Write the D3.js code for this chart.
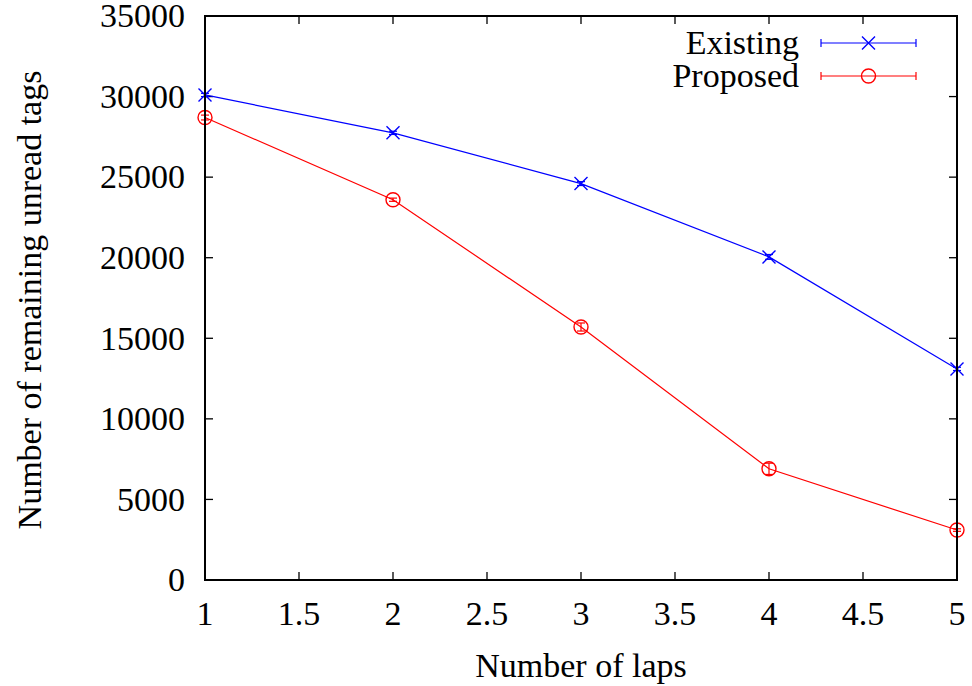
<!DOCTYPE html>
<html>
<head>
<meta charset="utf-8">
<script src="https://cdn.jsdelivr.net/npm/d3@7"></script>
<style>
  html, body { margin: 0; padding: 0; background: #fff; }
  svg text { font-family: "Liberation Serif", "Times New Roman", serif; fill: #000; }
</style>
</head>
<body>
<div id="chart"></div>
<script>
// data
const laps = [1, 2, 3, 4, 5];
const existing = [30100, 27750, 24600, 20050, 13100];
const existingErr = [100, 100, 120, 150, 100];
const proposed = [28700, 23600, 15700, 6900, 3100];
const proposedErr = [150, 100, 250, 350, 80];
const xTicks = [1, 1.5, 2, 2.5, 3, 3.5, 4, 4.5, 5];
const yTicks = [0, 5000, 10000, 15000, 20000, 25000, 30000, 35000];

const series = [
    { name: "Existing", values: existing, err: existingErr, color: "#0000ff", marker: "cross" },
    { name: "Proposed", values: proposed, err: proposedErr, color: "#ff0000", marker: "circle" }
];

const width = 972;
const height = 686;
const margin = { top: 16, right: 15, bottom: 106, left: 205 };
const chartWidth = width - margin.left - margin.right;
const chartHeight = height - margin.top - margin.bottom;

const svg = d3.select("#chart").append("svg")
    .attr("width", width)
    .attr("height", height);

const g = svg.append("g")
    .attr("transform", `translate(${margin.left}, ${margin.top})`);

// scales
const xScale = d3.scaleLinear().domain([1, 5]).range([0, chartWidth]);
const yScale = d3.scaleLinear().domain([0, 35000]).range([chartHeight, 0]);

const tickLen = 8;
const fontSize = 34;

// inward ticks on all four sides (gnuplot style)
const ticks = g.append("g").attr("stroke", "#000").attr("stroke-width", 1.3);
xTicks.forEach(t => {
    const x = xScale(t);
    ticks.append("line").attr("x1", x).attr("x2", x).attr("y1", chartHeight).attr("y2", chartHeight - tickLen);
    ticks.append("line").attr("x1", x).attr("x2", x).attr("y1", 0).attr("y2", tickLen);
});
yTicks.forEach(t => {
    const y = yScale(t);
    ticks.append("line").attr("x1", 0).attr("x2", tickLen).attr("y1", y).attr("y2", y);
    ticks.append("line").attr("x1", chartWidth).attr("x2", chartWidth - tickLen).attr("y1", y).attr("y2", y);
});

// tick labels
g.selectAll(".x-label")
    .data(xTicks)
    .enter().append("text")
    .attr("class", "x-label")
    .attr("x", d => xScale(d))
    .attr("y", chartHeight + 45)
    .attr("text-anchor", "middle")
    .style("font-size", fontSize + "px")
    .text(d => d);

g.selectAll(".y-label")
    .data(yTicks)
    .enter().append("text")
    .attr("class", "y-label")
    .attr("x", -20)
    .attr("y", d => yScale(d))
    .attr("dy", "0.33em")
    .attr("text-anchor", "end")
    .style("font-size", fontSize + "px")
    .text(d => d);

// axis titles
svg.append("text")
    .attr("x", margin.left + chartWidth / 2)
    .attr("y", 677)
    .attr("text-anchor", "middle")
    .style("font-size", fontSize + "px")
    .text("Number of laps");

svg.append("text")
    .attr("transform", `translate(41, ${margin.top + chartHeight / 2 + 2}) rotate(-90)`)
    .attr("text-anchor", "middle")
    .style("font-size", fontSize + "px")
    .text("Number of remaining unread tags");

// series
const line = d3.line()
    .x((d, i) => xScale(laps[i]))
    .y(d => yScale(d));

function drawMarker(sel, type, x, y, color) {
    if (type === "cross") {
        const s = 6.5;
        sel.append("path")
            .attr("d", `M${x - s},${y - s}L${x + s},${y + s}M${x - s},${y + s}L${x + s},${y - s}`)
            .attr("stroke", color).attr("stroke-width", 1.4).attr("fill", "none");
    } else {
        sel.append("circle")
            .attr("cx", x).attr("cy", y).attr("r", 7)
            .attr("stroke", color).attr("stroke-width", 1.4).attr("fill", "none");
    }
}

function drawErrorBar(sel, x, y0, y1, color) {
    const cap = 4;
    sel.append("line").attr("x1", x).attr("x2", x).attr("y1", y0).attr("y2", y1)
        .attr("stroke", color).attr("stroke-width", 1.2);
    [y0, y1].forEach(y => {
        sel.append("line").attr("x1", x - cap).attr("x2", x + cap).attr("y1", y).attr("y2", y)
            .attr("stroke", color).attr("stroke-width", 1.2);
    });
}

series.forEach(s => {
    const sg = g.append("g");
    sg.append("path")
        .datum(s.values)
        .attr("d", line)
        .attr("fill", "none")
        .attr("stroke", s.color)
        .attr("stroke-width", 1.2);
    s.values.forEach((v, i) => {
        const x = xScale(laps[i]);
        drawErrorBar(sg, x, yScale(v - s.err[i]), yScale(v + s.err[i]), s.color);
        drawMarker(sg, s.marker, x, yScale(v), s.color);
    });
});

// legend
const legend = g.append("g");
series.forEach((s, i) => {
    const y = 27 + i * 33;
    legend.append("text")
        .attr("x", 594)
        .attr("y", y)
        .attr("dy", "0.33em")
        .attr("text-anchor", "end")
        .style("font-size", fontSize + "px")
        .text(s.name);
    const x0 = 616, x1 = 711, xm = (x0 + x1) / 2;
    legend.append("line").attr("x1", x0).attr("x2", x1).attr("y1", y).attr("y2", y)
        .attr("stroke", s.color).attr("stroke-width", 1.2);
    [x0, x1].forEach(x => {
        legend.append("line").attr("x1", x).attr("x2", x).attr("y1", y - 4).attr("y2", y + 4)
            .attr("stroke", s.color).attr("stroke-width", 1.2);
    });
    drawMarker(legend, s.marker, xm, y, s.color);
});

// frame
g.append("rect")
    .attr("x", 0).attr("y", 0)
    .attr("width", chartWidth).attr("height", chartHeight)
    .attr("fill", "none")
    .attr("stroke", "#000")
    .attr("stroke-width", 2);
</script>
</body>
</html>
